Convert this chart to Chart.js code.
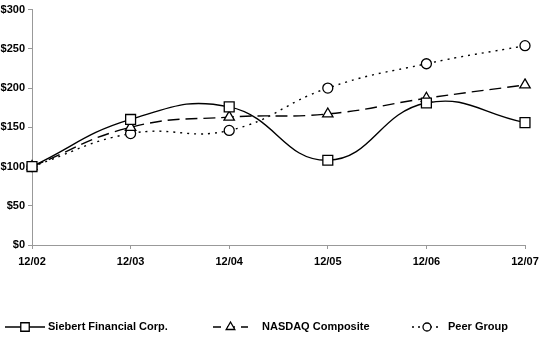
<!DOCTYPE html>
<html>
<head>
<meta charset="utf-8">
<script src="https://cdn.jsdelivr.net/npm/chart.js@4"></script>
<style>
  html, body { margin: 0; padding: 0; background: #fff; }
  #wrap { width: 550px; height: 343px; }
</style>
</head>
<body>
<div id="wrap"><canvas id="grafico" width="550" height="343"></canvas></div>
<script>
const anos = ['12/02', '12/03', '12/04', '12/05', '12/06', '12/07'];
const siebert = [100, 160, 176, 108, 181, 156];
const nasdaq = [100, 150, 163, 167, 187, 204];
const peer = [100, 142, 146, 200, 231, 254];
const nomes = ['Siebert Financial Corp.', 'NASDAQ Composite', 'Peer Group'];

const fonte = { family: 'Liberation Sans, Arial, sans-serif', size: 11, weight: 'bold' };

// legenda desenhada à mão: linha + marcador + texto
const legendaPlugin = {
    id: 'legenda',
    afterDraw(chart) {
        const ctx = chart.ctx;
        const y = 327;
        const itens = [
            { x0: 5, x1: 45, dash: [], txt: 48 },
            { x0: 213, x1: 248, dash: [8, 6], txt: 262 },
            { x0: 412, x1: 442, dash: [2, 4], txt: 448 }
        ];
        itens.forEach((it, i) => {
            const ds = chart.data.datasets[i];
            ctx.save();
            ctx.strokeStyle = '#000';
            ctx.lineWidth = 1.4;
            ctx.setLineDash(it.dash);
            ctx.beginPath();
            ctx.moveTo(it.x0, y);
            ctx.lineTo(it.x1, y);
            ctx.stroke();
            ctx.setLineDash([]);
            const cx = (it.x0 + it.x1) / 2;
            ctx.fillStyle = '#fff';
            ctx.strokeStyle = '#000';
            ctx.lineWidth = 1.3;
            Chart.helpers.drawPoint(ctx, {
                pointStyle: ds.pointStyle, radius: ds.pointRadius - 1, borderWidth: 1.3
            }, cx, y);
            ctx.font = 'bold 11px "Liberation Sans", Arial, sans-serif';
            ctx.fillStyle = '#000';
            ctx.textBaseline = 'middle';
            ctx.fillText(nomes[i], it.txt, y);
            ctx.restore();
        });
    }
};

const comum = {
    borderColor: '#000',
    borderWidth: 1.4,
    pointBackgroundColor: '#fff',
    pointBorderColor: '#000',
    pointBorderWidth: 1.3,
    tension: 0.45,
    fill: false
};

const ctx = document.getElementById('grafico').getContext('2d');
const meuGrafico = new Chart(ctx, {
    type: 'line',
    data: {
        labels: anos,
        datasets: [
            { ...comum, label: nomes[0], data: siebert, pointStyle: 'rect', pointRadius: 7 },
            { ...comum, label: nomes[1], data: nasdaq, pointStyle: 'triangle', pointRadius: 6, borderDash: [12, 6] },
            { ...comum, label: nomes[2], data: peer, pointStyle: 'circle', pointRadius: 5, borderDash: [2, 5] }
        ]
    },
    options: {
        responsive: false,
        animation: false,
        layout: { padding: { top: 5, right: 25, bottom: 60, left: 0 } },
        plugins: { legend: { display: false }, tooltip: { enabled: false } },
        scales: {
            x: {
                offset: false,
                grid: { display: true, drawOnChartArea: false, drawTicks: true, tickLength: 4, color: '#999' },
                border: { color: '#999', width: 1 },
                ticks: { color: '#000', font: fonte, padding: 6, maxRotation: 0 },
                afterFit: (s) => { s.height = 38; }
            },
            y: {
                min: 0, max: 300,
                grid: { display: true, drawOnChartArea: false, drawTicks: true, tickLength: 4, color: '#999' },
                border: { color: '#999', width: 1 },
                ticks: { stepSize: 50, color: '#000', font: fonte, padding: 3, callback: (v) => '$' + v },
                afterFit: (s) => { s.width = 32; }
            }
        }
    },
    plugins: [legendaPlugin]
});
</script>
</body>
</html>
